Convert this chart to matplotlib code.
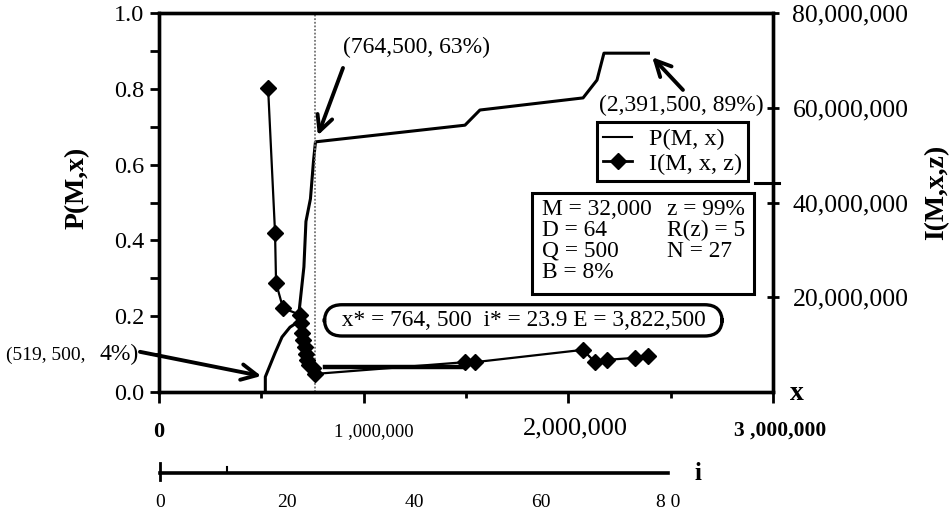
import matplotlib
matplotlib.use('Agg')
import matplotlib.pyplot as plt
from matplotlib.patches import Rectangle
from matplotlib.lines import Line2D
import numpy as np

plt.rcParams['font.family'] = ['Liberation Serif', 'DejaVu Serif']

# P(M, x) curve
p_x = [519500, 519500, 567000, 601000, 640000, 679000, 690000, 708000, 718000,
       740000, 755000, 764500, 1495000, 1568000, 2072000, 2140000, 2174000, 2391500]
p_val = [0.0, 0.04, 0.103, 0.145, 0.171, 0.185, 0.24, 0.33, 0.45,
         0.51, 0.61, 0.66, 0.704, 0.744, 0.776, 0.823, 0.894, 0.894]

# I(M, x, z) curve
i_x = [533000, 567000, 572000, 606000, 689000, 695000, 700000, 706000, 713000,
       718000, 723000, 735000, 752000, 764500, 1495000, 1544000,
       2072000, 2130000, 2190000, 2326000, 2391500]
i_val = [64.2e6, 33.6e6, 23.0e6, 17.7e6, 16.3e6, 14.5e6, 12.5e6, 11.0e6, 9.5e6,
         8.0e6, 6.8e6, 5.8e6, 5.0e6, 3.8225e6, 6.3e6, 6.3e6,
         8.9e6, 6.3e6, 6.8e6, 7.2e6, 7.6e6]

x_star = 764500

y_left_ticks = [0.0, 0.2, 0.4, 0.6, 0.8, 1.0]
y_right_ticks = [20e6, 40e6, 60e6, 80e6]
y_right_labels = ['20,000,000', '40,000,000', '60,000,000', '80,000,000']
x_label_vals = [0, 1e6, 2e6, 3e6]
x_label_text = ['0', '1 ,000,000', '2,000,000', '3 ,000,000']
i_ticks = [0, 20, 40, 60, 80]
i_tick_labels = ['0', '20', '40', '60', '8 0']

W, H = 952, 514
def fx(px):
    return px / W
def fy(py):
    return 1 - py / H

fig = plt.figure(figsize=(9.52, 5.14), dpi=100)
ax = fig.add_axes([fx(159), fy(392), (773 - 159) / W, (392 - 13) / H])
ax2 = ax.twinx()

# curves
ax.plot(p_x, p_val, color='black', lw=2.2, solid_joinstyle='round')
ax2.plot(i_x, i_val, color='black', lw=1.6, marker='D', ms=8.5)
ax.axvline(x_star, color='0.45', lw=1.3, ls=(0, (1, 1)))
# thick bar under the box
ax2.plot([811000, 1485000], [5.3e6, 5.3e6], color='black', lw=3.2)

ax.set_xlim(0, 3e6)
ax.set_ylim(0, 1)
ax2.set_ylim(0, 80e6)

for a in (ax, ax2):
    for s in a.spines.values():
        s.set_linewidth(2.4)

# left axis
ax.set_yticks(y_left_ticks, ['%.1f' % v for v in y_left_ticks])
ax.set_yticks([0.1, 0.3, 0.5, 0.7, 0.9], minor=True)
ax.tick_params(axis='y', which='both', direction='out', length=6.5, width=2,
               labelsize=17.5, pad=4)
ax.set_xticks([0, 1e6, 2e6, 3e6], ['', '', '', ''])
ax.set_xticks([5e5, 1.5e6, 2.5e6], minor=True)
ax.tick_params(axis='x', which='major', direction='out', length=8, width=2)
ax.tick_params(axis='x', which='minor', direction='out', length=4.5, width=2)

# right axis
ax2.set_yticks(y_right_ticks, y_right_labels)
ax2.tick_params(axis='y', direction='inout', length=8, width=2, labelsize=18.5, pad=10)

# x tick labels (mixed styles as in the figure)
x_lab_style = [dict(dx=0, dy=-40, size=16, weight='bold'),
               dict(dx=10, dy=-40, size=13.5, weight='normal'),
               dict(dx=7, dy=-36, size=19, weight='normal'),
               dict(dx=7, dy=-39, size=15.5, weight='bold')]
for v, t, st in zip(x_label_vals, x_label_text, x_lab_style):
    ax.annotate(t, xy=(v, 0), xycoords=('data', 'axes fraction'),
                xytext=(st['dx'] * 0.72, st['dy'] * 0.72), textcoords='offset points',
                ha='center', va='center', fontsize=st['size'], fontweight=st['weight'])
fig.text(fx(797), fy(393), 'x', fontsize=20, fontweight='bold', ha='center', va='center')

# axis titles
fig.text(fx(77), fy(188), 'P(M,x)', rotation=90, fontsize=20, fontweight='bold',
         ha='center', va='center')
fig.text(fx(937), fy(192), 'I(M,x,z)', rotation=90, fontsize=20, fontweight='bold',
         ha='center', va='center')

# annotations
arrow = dict(arrowstyle='->', lw=2.8, color='black', mutation_scale=28, shrinkA=0)
ax.annotate('', xy=(x_star, 0.66), xytext=(899000, 0.855),
            arrowprops=dict(arrow, shrinkB=5))
ax.text(1.26e6, 0.91, '(764,500, 63%)', fontsize=17, ha='center', va='center')
ax.annotate('', xy=(2391500, 0.894), xytext=(2560000, 0.797),
            arrowprops=dict(arrow, shrinkB=4), annotation_clip=False)
ax.text(2.551e6, 0.755, '(2,391,500, 89%)', fontsize=17, ha='center', va='center')
ax.annotate('', xy=(519500, 0.04), xytext=(-93000, 0.106),
            arrowprops=dict(arrow, shrinkB=3), annotation_clip=False)
fig.text(fx(90), fy(355), '(519, 500, ', fontsize=14, ha='right', va='center')
fig.text(fx(99), fy(354), '4%)', fontsize=17, ha='left', va='center')

ax.text(1.78e6, 0.189, '  x* = 764, 500  i* = 23.9 E = 3,822,500  ', fontsize=16.8,
        ha='center', va='center',
        bbox=dict(boxstyle='round,pad=0.22,rounding_size=0.75', fc='white',
                  ec='black', lw=2.4))

# legend
handles = [Line2D([], [], color='black', lw=1.5),
           Line2D([], [], color='black', lw=2, marker='D', ms=8.5)]
leg = ax2.legend(handles, ['P(M, x)', 'I(M, x, z)'], loc='upper left',
                 bbox_to_anchor=(fx(597), fy(122)), bbox_transform=fig.transFigure,
                 fontsize=17.5, fancybox=False, framealpha=1, edgecolor='black',
                 borderpad=0.25, borderaxespad=0, handlelength=1.2, handletextpad=0.7,
                 labelspacing=0.1)
leg.get_frame().set_linewidth(2.2)
fig.add_artist(Line2D([fx(755), fx(779)], [fy(183), fy(183)], color='black', lw=2.2))

# parameter box
fig.add_artist(Rectangle((fx(532), fy(294)), (754 - 532) / W, (294 - 193) / H,
                         transform=fig.transFigure, fill=False, lw=2.2, ec='black'))
fig.text(fx(542), fy(199), 'M = 32,000\nD = 64\nQ = 500\nB = 8%', fontsize=16.8,
         ha='left', va='top', linespacing=1.0)
fig.text(fx(667), fy(199), 'z = 99%\nR(z) = 5\nN = 27', fontsize=16.8,
         ha='left', va='top', linespacing=1.0)

# second scale for i
ax3 = fig.add_axes([fx(160), fy(473), 508 / W, 10 / H])
ax3.patch.set_visible(False)
ax3.set_xlim(0, 80)
ax3.set_ylim(0, 1)
for k in ('top', 'right', 'left'):
    ax3.spines[k].set_visible(False)
ax3.spines['bottom'].set_linewidth(2.6)
ax3.set_yticks([])
ax3.set_xticks(i_ticks, i_tick_labels)
ax3.tick_params(axis='x', length=0, labelsize=14, pad=15)
ax3.plot([0, 0], [-0.7, 1.0], color='black', lw=2, clip_on=False)
ax3.plot([10.5, 10.5], [0.2, 0.6], color='black', lw=1.5, clip_on=False)
fig.text(fx(698), fy(473), 'i', fontsize=18, fontweight='bold', ha='center', va='center')

fig.savefig('out.png', dpi=100)
